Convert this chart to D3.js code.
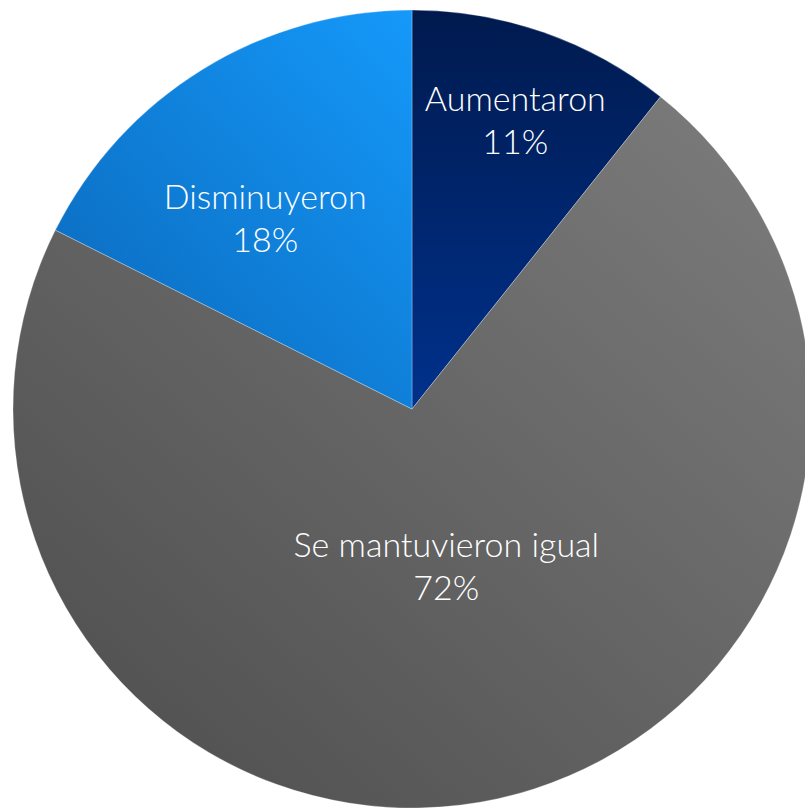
<!DOCTYPE html>
<html lang="es">
<head>
<meta charset="UTF-8">
<style>
  body { margin: 0; background: #fff; }
  text { font-family: Lato, "Open Sans", sans-serif; font-weight: 300; fill: #fff; }
</style>
</head>
<body>
<div id="chart"></div>
<script src="https://cdn.jsdelivr.net/npm/d3@7"></script>
<script>
    var categories = ["Aumentaron", "Se mantuvieron igual", "Disminuyeron"];
    var values = [10.7, 71.7, 17.6];
    var percentLabels = ["11%", "72%", "18%"];

    var width = 805, height = 809,
        cx = 412, cy = 409, R = 399;

    // radial position of each label (share of radius) and a small nudge in px
    var labelPos = [0.77, 0.40, 0.61];
    var labelNudge = [[2, 0], [0, 0], [-19, 15]];

    var svg = d3.select("#chart").append("svg")
        .attr("width", width)
        .attr("height", height);

    var defs = svg.append("defs");
    var grads = [
        { id: "g0", x1: 0, y1: 0, x2: 0, y2: 1, from: "#001a4e", to: "#00318c" },
        { id: "g1", x1: 1, y1: 0, x2: 0, y2: 1, from: "#7d7d7d", to: "#4c4c4c" },
        { id: "g2", x1: 1, y1: 0, x2: 0, y2: 1, from: "#1599fa", to: "#0a66b8" }
    ];
    grads.forEach(function(g) {
        var lg = defs.append("linearGradient").attr("id", g.id)
            .attr("x1", g.x1).attr("y1", g.y1).attr("x2", g.x2).attr("y2", g.y2);
        lg.append("stop").attr("offset", 0).attr("stop-color", g.from);
        lg.append("stop").attr("offset", 1).attr("stop-color", g.to);
    });

    var g = svg.append("g").attr("transform", "translate(" + cx + "," + cy + ")");

    var pie = d3.pie().sort(null).value(function(d) { return d; });
    var arcs = pie(values);

    var arc = d3.arc().innerRadius(0).outerRadius(R);

    g.selectAll("path")
        .data(arcs)
        .enter().append("path")
        .attr("d", arc)
        .attr("fill", function(d, i) { return "url(#g" + i + ")"; })
        .attr("stroke", "rgba(255,255,255,0.35)")
        .attr("stroke-width", 0.8);

    var labels = g.selectAll("text.lbl")
        .data(arcs)
        .enter().append("text")
        .attr("class", "lbl")
        .attr("text-anchor", "middle")
        .attr("font-size", 34)
        .attr("transform", function(d, i) {
            var a = (d.startAngle + d.endAngle) / 2;
            var r = R * labelPos[i];
            var x = r * Math.sin(a) + labelNudge[i][0],
                y = -r * Math.cos(a) + labelNudge[i][1];
            return "translate(" + x + "," + y + ")";
        });

    labels.append("tspan").attr("x", 0).attr("y", -8)
        .text(function(d, i) { return categories[i]; });
    labels.append("tspan").attr("x", 0).attr("y", 35)
        .text(function(d, i) { return percentLabels[i]; });
</script>
</body>
</html>
